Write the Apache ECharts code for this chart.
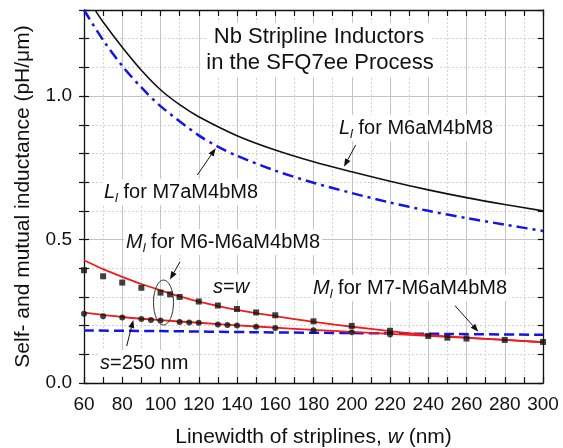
<!DOCTYPE html>
<html><head><meta charset="utf-8">
<script src="https://cdn.jsdelivr.net/npm/echarts@6/dist/echarts.min.js"></script>
<style>html,body{margin:0;padding:0;background:#fff}#c{width:563px;height:448px}</style>
</head><body><div id="c"></div>
<script>
// ---- data ----
const wLM6 = [66, 70, 80, 90, 100, 110, 120, 140, 160, 180, 200, 220, 240, 260, 280, 300];
const LM6  = [1.298, 1.258, 1.170, 1.090, 1.022, 0.970, 0.928, 0.862, 0.812, 0.771, 0.736, 0.703, 0.673, 0.646, 0.622, 0.600];
const wLM7 = [60, 70, 80, 90, 100, 120, 130, 140, 160, 180, 200, 220, 240, 260, 280, 300];
const LM7  = [1.300, 1.195, 1.105, 1.030, 0.965, 0.863, 0.824, 0.792, 0.740, 0.698, 0.662, 0.629, 0.600, 0.575, 0.552, 0.530];
const wFit = [60, 70, 80, 90, 100, 110, 120, 140, 160, 180, 200, 220, 240, 260, 280, 300];
const MfitSW = [0.428, 0.397, 0.370, 0.345, 0.323, 0.302, 0.284, 0.255, 0.233, 0.213, 0.196, 0.181, 0.168, 0.158, 0.150, 0.142];
const wFit2 = [60, 80, 100, 120, 140, 160, 180, 200, 220, 240, 260, 280, 300];
const MfitS250 = [0.245, 0.230, 0.219, 0.210, 0.201, 0.193, 0.185, 0.178, 0.171, 0.164, 0.157, 0.150, 0.142];
const wM7 = [60, 100, 150, 200, 250, 300];
const MM7 = [0.183, 0.181, 0.177, 0.174, 0.171, 0.168];
const wSq = [60, 70, 80, 90, 100, 105, 110, 120, 130, 140, 150, 160, 180, 200, 220, 240, 250, 260, 280, 300];
const MSq = [0.393, 0.372, 0.350, 0.332, 0.315, 0.309, 0.300, 0.284, 0.270, 0.258, 0.246, 0.236, 0.215, 0.199, 0.182, 0.164, 0.158, 0.155, 0.150, 0.143];
const wCi = [60, 70, 80, 90, 95, 100, 110, 115, 120, 130, 135, 140, 150, 160, 180, 200, 220];
const MCi = [0.241, 0.233, 0.228, 0.223, 0.220, 0.218, 0.213, 0.211, 0.210, 0.204, 0.202, 0.200, 0.196, 0.192, 0.184, 0.177, 0.169];
const yTickLabels = ['0.0', '0.5', '1.0'];

const FONT = '"Liberation Sans", Arial, Helvetica, sans-serif';
const INK = '#111';
const pair = (xs, ys) => xs.map((x, i) => [x, ys[i]]);

function arrow(x1, y1, x2, y2) {
  const a = Math.atan2(y2 - y1, x2 - x1), L = 8, W = 3;
  const bx = x2 - L * Math.cos(a), by = y2 - L * Math.sin(a);
  const px = -Math.sin(a) * W, py = Math.cos(a) * W;
  return [
    {type: 'line', z: 20, shape: {x1, y1, x2: bx, y2: by}, style: {stroke: INK, lineWidth: 1}},
    {type: 'polygon', z: 20, shape: {points: [[x2, y2], [bx + px, by + py], [bx - px, by - py]]}, style: {fill: INK}}
  ];
}
const rich = {
  i: {fontStyle: 'italic', fontSize: 20, fontFamily: FONT, fill: INK},
  n: {fontSize: 20, fontFamily: FONT, fill: INK},
  sub: {fontStyle: 'italic', fontSize: 13, fontFamily: FONT, fill: INK, verticalAlign: 'bottom', lineHeight: 13}
};
function label(x, y, text, opts) {
  return Object.assign({type: 'text', z: 1, x, y, style: {
    text, rich, fontSize: 20, fontFamily: FONT, fill: INK, lineHeight: 26,
    align: 'left', verticalAlign: 'middle', backgroundColor: '#fff', padding: [0, 2]
  }}, opts || {});
}

const chart = echarts.init(document.getElementById('c'));
const tickStyle = {color: INK, width: 1.2};
chart.setOption({
  backgroundColor: '#fff',
  animation: false,
  grid: {left: 84, right: 20, top: 10, bottom: 65, containLabel: false, outerBoundsMode: 'none'},
  xAxis: [
    {type: 'value', min: 60, max: 300, interval: 20, position: 'bottom',
     name: 'Linewidth of striplines, {i|w} (nm)', nameLocation: 'middle', nameGap: 44,
     nameTextStyle: {fontSize: 21, fontFamily: FONT, color: INK, rich: {i: {fontStyle: 'italic', fontSize: 21, fontFamily: FONT, color: INK}}},
     axisLine: {show: true, onZero: false, lineStyle: {color: INK, width: 1.3}},
     axisTick: {show: true, inside: true, length: 6, lineStyle: tickStyle},
     minorTick: {show: true, splitNumber: 2, length: 6, lineStyle: tickStyle},
     axisLabel: {fontSize: 19, fontFamily: FONT, color: INK, margin: 12},
     splitLine: {show: true, lineStyle: {color: '#c4c4c4', width: 1}},
     minorSplitLine: {show: true, lineStyle: {color: '#d2d2d2', width: 1, type: [2, 2]}}},
    {type: 'value', min: 60, max: 300, interval: 10, position: 'top',
     axisLine: {show: true, onZero: false, lineStyle: {color: INK, width: 1.3}},
     axisTick: {show: true, inside: true, length: 6, lineStyle: tickStyle},
     axisLabel: {show: false}, splitLine: {show: false}}
  ],
  yAxis: [
    {type: 'value', min: 0, max: 1.3, interval: 0.1, position: 'left',
     name: 'Self- and mutual inductance (pH/μm)', nameLocation: 'middle', nameGap: 50,
     nameTextStyle: {fontSize: 21, fontFamily: FONT, color: INK},
     axisLine: {show: true, onZero: false, lineStyle: {color: INK, width: 1.3}},
     axisTick: {show: true, inside: false, length: 5, lineStyle: tickStyle},
     axisLabel: {fontSize: 19, fontFamily: FONT, color: INK, margin: 12,
       formatter: v => { const k = Math.round(v * 2); return Math.abs(v - k / 2) < 1e-6 && yTickLabels[k] ? yTickLabels[k] : ''; }},
     splitLine: {show: true, lineStyle: {color: '#d2d2d2', width: 1, type: [2, 2]}}},
    {type: 'value', min: 0, max: 1.3, interval: 0.5, position: 'left',
     axisLine: {show: false}, axisTick: {show: false}, axisLabel: {show: false},
     splitLine: {show: true, lineStyle: {color: '#c4c4c4', width: 1}}},
    {type: 'value', min: 0, max: 1.3, interval: 0.1, position: 'left',
     axisLine: {show: false}, axisTick: {show: true, inside: true, length: 5, lineStyle: tickStyle},
     axisLabel: {show: false}, splitLine: {show: false}},
    {type: 'value', min: 0, max: 1.3, interval: 0.1, position: 'right',
     axisLine: {show: true, onZero: false, lineStyle: {color: INK, width: 1.3}},
     axisTick: {show: true, inside: true, length: 5, lineStyle: tickStyle},
     axisLabel: {show: false}, splitLine: {show: false}}
  ],
  series: [
    {type: 'line', data: pair(wLM6, LM6), smooth: 0.3, showSymbol: false, lineStyle: {color: INK, width: 1.6}, z: 3},
    {type: 'line', data: pair(wLM7, LM7), smooth: 0.3, showSymbol: false, lineStyle: {color: '#1414e6', width: 2.5, type: [11, 5, 3, 5]}, z: 3},
    {type: 'line', data: pair(wM7, MM7), smooth: 0.3, showSymbol: false, lineStyle: {color: '#1414e6', width: 2.5, type: [10, 5]}, z: 3},
    {type: 'line', data: pair(wFit, MfitSW), smooth: 0.3, showSymbol: false, lineStyle: {color: '#ee1c1c', width: 1.8}, z: 4},
    {type: 'line', data: pair(wFit2, MfitS250), smooth: 0.3, showSymbol: false, lineStyle: {color: '#ee1c1c', width: 1.8}, z: 4},
    {type: 'scatter', data: pair(wSq, MSq), symbol: 'rect', symbolSize: 6, itemStyle: {color: INK}, z: 5},
    {type: 'scatter', data: pair(wCi, MCi), symbol: 'circle', symbolSize: 6, itemStyle: {color: INK}, z: 5}
  ],
  graphic: [
    {type: 'text', z: 1, x: 319, y: 37, style: {text: 'Nb Stripline Inductors', fontSize: 22, fontFamily: FONT, fill: INK, align: 'center', verticalAlign: 'middle', backgroundColor: '#fff', padding: [3, 6]}},
    {type: 'text', z: 1, x: 320, y: 63, style: {text: 'in the SFQ7ee Process', fontSize: 22, fontFamily: FONT, fill: INK, align: 'center', verticalAlign: 'middle', backgroundColor: '#fff', padding: [3, 6]}},
    label(337, 128, '{i|L}{sub|l}{n| for M6aM4bM8}'),
    label(102, 192, '{i|L}{sub|l}{n| for M7aM4bM8}'),
    label(124, 242, '{i|M}{sub|l}{n| for M6-M6aM4bM8}'),
    label(311, 288, '{i|M}{sub|l}{n| for M7-M6aM4bM8}'),
    label(211, 287, '{i|s}{n|=}{i|w}'),
    label(98, 363, '{i|s}{n|=250 nm}'),
    {type: 'ellipse', z: 20, shape: {cx: 163.5, cy: 302.5, rx: 10, ry: 22.5}, style: {stroke: '#333', fill: null, lineWidth: 1}},
    ...arrow(355.7, 145, 344, 166.7),
    ...arrow(197.3, 175, 215.7, 148.3),
    ...arrow(180, 261.7, 170, 279.5),
    ...arrow(455, 305.7, 478.3, 331.7),
    ...arrow(126.7, 346, 133.3, 320)
  ]
});
</script></body></html>
